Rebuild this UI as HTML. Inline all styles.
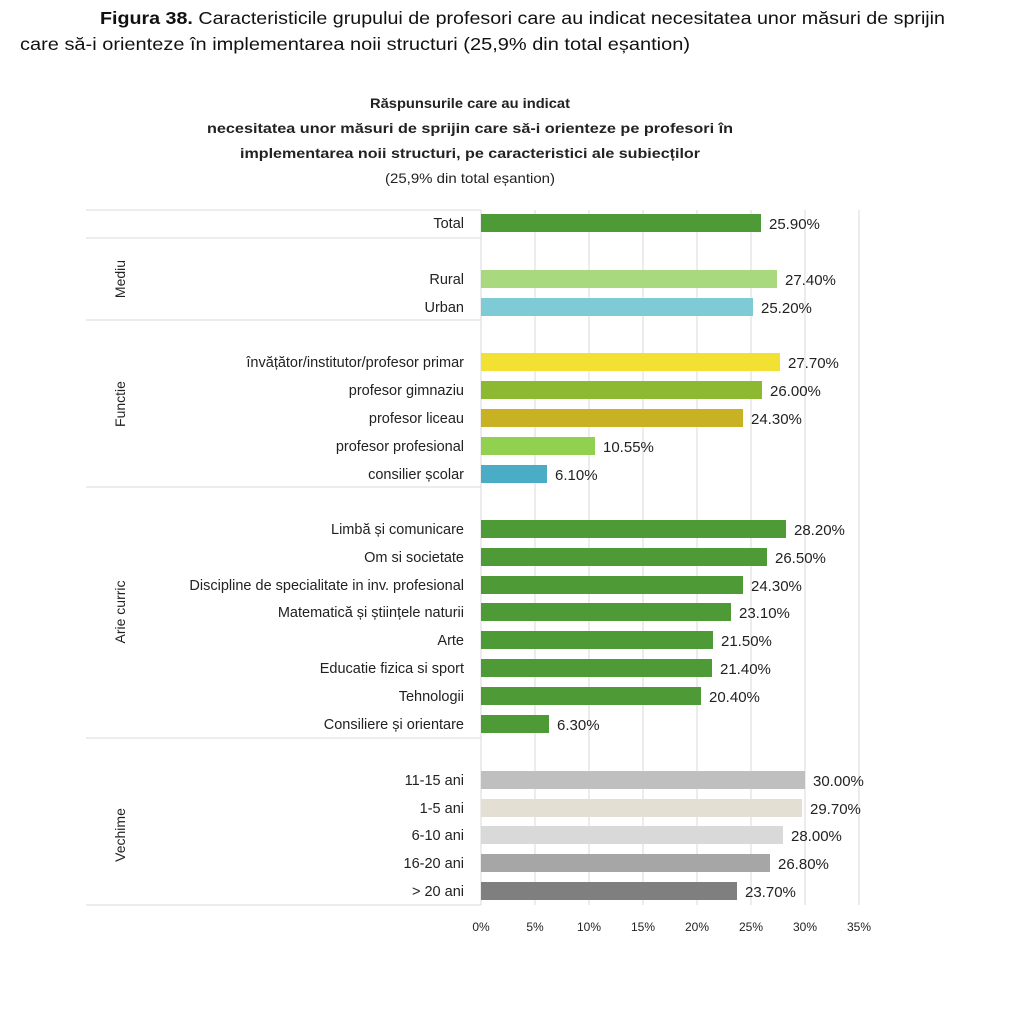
<!DOCTYPE html>
<html><head><meta charset="utf-8"><style>
body{margin:0;background:#fff;width:1020px;height:1024px;overflow:hidden}
svg{display:block}
text{font-family:"Liberation Sans","DejaVu Sans",sans-serif}
</style></head><body>
<svg width="1020" height="1024" viewBox="0 0 1020 1024" xmlns="http://www.w3.org/2000/svg">
<text x="100" y="24" font-size="17.5" fill="#111" textLength="845" lengthAdjust="spacingAndGlyphs"><tspan font-weight="bold">Figura 38.</tspan> Caracteristicile grupului de profesori care au indicat necesitatea unor măsuri de sprijin</text>
<text x="20" y="50" font-size="17.5" fill="#111" textLength="670" lengthAdjust="spacingAndGlyphs">care să-i orienteze în implementarea noii structuri (25,9% din total eșantion)</text>
<g font-size="14" fill="#222">
<text x="370" y="108" font-weight="bold" textLength="200" lengthAdjust="spacingAndGlyphs">Răspunsurile care au indicat</text>
<text x="207" y="133" font-weight="bold" textLength="526" lengthAdjust="spacingAndGlyphs">necesitatea unor măsuri de sprijin care să-i orienteze pe profesori în</text>
<text x="240" y="158" font-weight="bold" textLength="460" lengthAdjust="spacingAndGlyphs">implementarea noii structuri, pe caracteristici ale subiecților</text>
<text x="385" y="183" textLength="170" lengthAdjust="spacingAndGlyphs">(25,9% din total eșantion)</text>
</g>
<g stroke="#d9d9d9" stroke-width="1">
<line x1="535" y1="210" x2="535" y2="905"/><line x1="589" y1="210" x2="589" y2="905"/><line x1="643" y1="210" x2="643" y2="905"/><line x1="697" y1="210" x2="697" y2="905"/><line x1="751" y1="210" x2="751" y2="905"/><line x1="805" y1="210" x2="805" y2="905"/><line x1="859" y1="210" x2="859" y2="905"/>
<line x1="86" y1="238" x2="481" y2="238"/><line x1="86" y1="320" x2="481" y2="320"/><line x1="86" y1="487" x2="481" y2="487"/><line x1="86" y1="738" x2="481" y2="738"/><line x1="86" y1="905" x2="481" y2="905"/><line x1="86" y1="210" x2="481" y2="210"/>
<line x1="481" y1="210" x2="481" y2="905"/>
</g>
<g font-size="14" fill="#222" text-anchor="middle">
<text transform="translate(125,279) rotate(-90)">Mediu</text>
<text transform="translate(125,404) rotate(-90)">Functie</text>
<text transform="translate(125,612) rotate(-90)">Arie curric</text>
<text transform="translate(125,835) rotate(-90)">Vechime</text>
</g>
<g font-size="15" fill="#222">
<g text-anchor="end" font-size="14.5">
<text x="464" y="228">Total</text>
<text x="464" y="284">Rural</text>
<text x="464" y="312">Urban</text>
<text x="464" y="367">învățător/institutor/profesor primar</text>
<text x="464" y="395">profesor gimnaziu</text>
<text x="464" y="423">profesor liceau</text>
<text x="464" y="451">profesor profesional</text>
<text x="464" y="479">consilier școlar</text>
<text x="464" y="534">Limbă și comunicare</text>
<text x="464" y="562">Om si societate</text>
<text x="464" y="590">Discipline de specialitate in inv. profesional</text>
<text x="464" y="617">Matematică și științele naturii</text>
<text x="464" y="645">Arte</text>
<text x="464" y="673">Educatie fizica si sport</text>
<text x="464" y="701">Tehnologii</text>
<text x="464" y="729">Consiliere și orientare</text>
<text x="464" y="785">11-15 ani</text>
<text x="464" y="813">1-5 ani</text>
<text x="464" y="840">6-10 ani</text>
<text x="464" y="868">16-20 ani</text>
<text x="464" y="896">&gt; 20 ani</text>
</g>
<rect x="481" y="214" width="280" height="18" fill="#4e9a37"/><text x="769" y="229">25.90%</text>
<rect x="481" y="270" width="296" height="18" fill="#a9d97e"/><text x="785" y="285">27.40%</text>
<rect x="481" y="298" width="272" height="18" fill="#7ecbd6"/><text x="761" y="313">25.20%</text>
<rect x="481" y="353" width="299" height="18" fill="#f2e033"/><text x="788" y="368">27.70%</text>
<rect x="481" y="381" width="281" height="18" fill="#8db832"/><text x="770" y="396">26.00%</text>
<rect x="481" y="409" width="262" height="18" fill="#c8b224"/><text x="751" y="424">24.30%</text>
<rect x="481" y="437" width="114" height="18" fill="#92d050"/><text x="603" y="452">10.55%</text>
<rect x="481" y="465" width="66" height="18" fill="#4bacc6"/><text x="555" y="480">6.10%</text>
<rect x="481" y="520" width="305" height="18" fill="#4e9a37"/><text x="794" y="535">28.20%</text>
<rect x="481" y="548" width="286" height="18" fill="#4e9a37"/><text x="775" y="563">26.50%</text>
<rect x="481" y="576" width="262" height="18" fill="#4e9a37"/><text x="751" y="591">24.30%</text>
<rect x="481" y="603" width="250" height="18" fill="#4e9a37"/><text x="739" y="618">23.10%</text>
<rect x="481" y="631" width="232" height="18" fill="#4e9a37"/><text x="721" y="646">21.50%</text>
<rect x="481" y="659" width="231" height="18" fill="#4e9a37"/><text x="720" y="674">21.40%</text>
<rect x="481" y="687" width="220" height="18" fill="#4e9a37"/><text x="709" y="702">20.40%</text>
<rect x="481" y="715" width="68" height="18" fill="#4e9a37"/><text x="557" y="730">6.30%</text>
<rect x="481" y="771" width="324" height="18" fill="#bfbfbf"/><text x="813" y="786">30.00%</text>
<rect x="481" y="799" width="321" height="18" fill="#e4dfd3"/><text x="810" y="814">29.70%</text>
<rect x="481" y="826" width="302" height="18" fill="#d9d9d9"/><text x="791" y="841">28.00%</text>
<rect x="481" y="854" width="289" height="18" fill="#a6a6a6"/><text x="778" y="869">26.80%</text>
<rect x="481" y="882" width="256" height="18" fill="#7f7f7f"/><text x="745" y="897">23.70%</text>
</g>
<g font-size="12" fill="#222" text-anchor="middle">
<text x="481" y="931">0%</text><text x="535" y="931">5%</text><text x="589" y="931">10%</text><text x="643" y="931">15%</text><text x="697" y="931">20%</text><text x="751" y="931">25%</text><text x="805" y="931">30%</text><text x="859" y="931">35%</text>
</g>
</svg>
</body></html>
